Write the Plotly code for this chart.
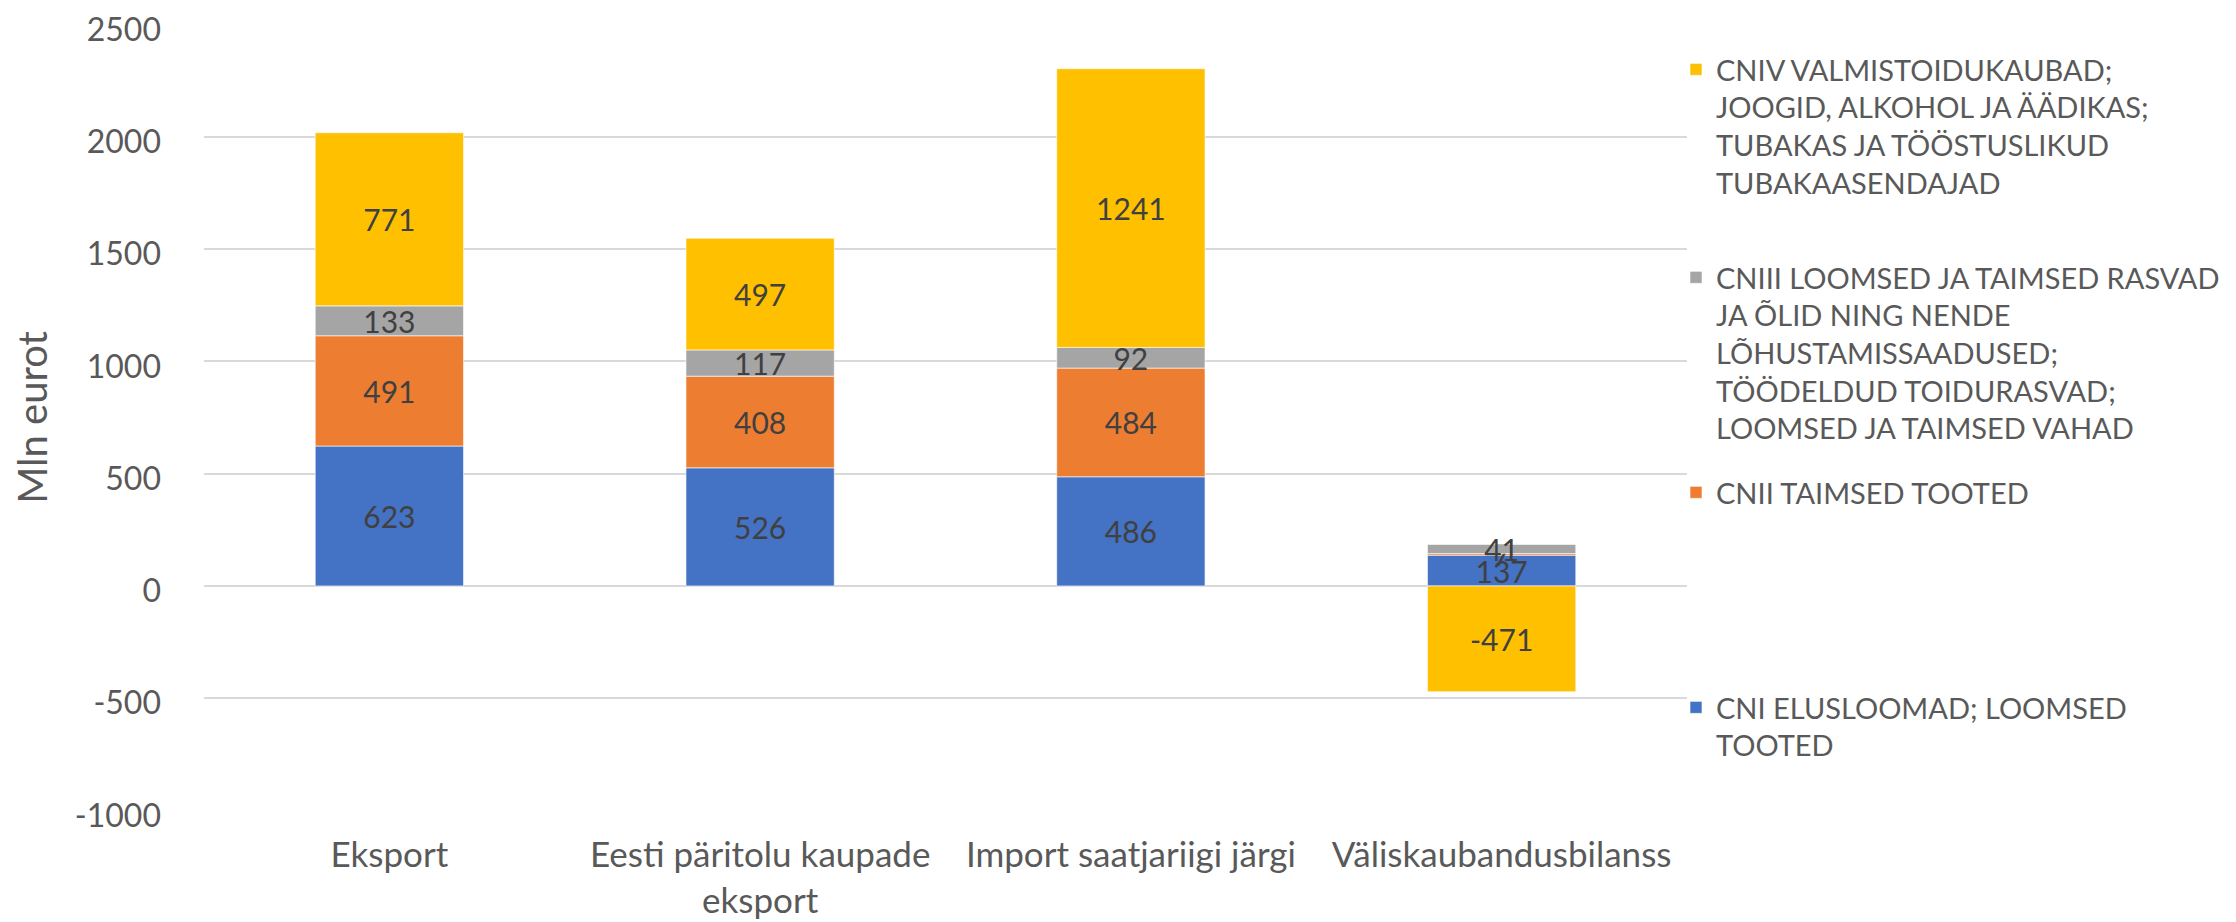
import plotly.graph_objects as go

categories = ["Eksport", "Eesti päritolu kaupade<br>eksport", "Import saatjariigi järgi", "Väliskaubandusbilanss"]

cni = [623, 526, 486, 137]
cnii = [491, 408, 484, 7]
cniii = [133, 117, 92, 41]
cniv = [771, 497, 1241, -471]

names = [
    "CNI ELUSLOOMAD; LOOMSED<br>TOOTED",
    "CNII TAIMSED TOOTED",
    "CNIII LOOMSED JA TAIMSED RASVAD<br>JA ÕLID NING NENDE<br>LÕHUSTAMISSAADUSED;<br>TÖÖDELDUD TOIDURASVAD;<br>LOOMSED JA TAIMSED VAHAD",
    "CNIV VALMISTOIDUKAUBAD;<br>JOOGID, ALKOHOL JA ÄÄDIKAS;<br>TUBAKAS JA TÖÖSTUSLIKUD<br>TUBAKAASENDAJAD",
]
colors = ["#4472C4", "#ED7D31", "#A5A5A5", "#FFC000"]
series = [cni, cnii, cniii, cniv]
legend_ids = ["legend4", "legend3", "legend2", "legend"]

y_ticks = [-1000, -500, 0, 500, 1000, 1500, 2000, 2500]
y_ticktext = [str(v) for v in y_ticks]

FONT = "Lato"
TXT = "#595959"

fig = go.Figure()
for name, vals, col, lg in zip(names, series, colors, legend_ids):
    fig.add_trace(go.Bar(
        x=categories, y=vals, name=name,
        marker=dict(color=col, line=dict(color="rgba(255,255,255,0.6)", width=1)),
        text=[str(v) for v in vals],
        textposition="inside", insidetextanchor="middle", textangle=0,
        constraintext="none",
        textfont=dict(family=FONT, size=30, color="#404040"),
        legend=lg,
    ))

# figure is offset by the 8px page body margin
W, H = 2228, 914
L, T = 196, 16
R = W - 1679
B = H - 803
pw = W - L - R
ph = H - T - B

def px_x(px):
    return (px - L) / pw

def px_y(py):
    return (H - B - py) / ph

leg_common = dict(
    font=dict(family=FONT, size=29, color=TXT),
    xanchor="left", yanchor="top", valign="top",
    bgcolor="rgba(0,0,0,0)", borderwidth=0,
    x=px_x(1668),
)
layout_legends = {}
for lg, ytop in zip(["legend", "legend2", "legend3", "legend4"], [36, 244, 459, 674]):
    layout_legends[lg] = dict(leg_common, y=px_y(ytop))

fig.update_layout(
    width=W, height=H,
    margin=dict(l=L, r=R, t=T, b=B, pad=0, autoexpand=False),
    barmode="relative",
    bargap=0.6,
    plot_bgcolor="white", paper_bgcolor="white",
    font=dict(family=FONT, color=TXT),
    uniformtext=dict(minsize=30, mode="show"),
    showlegend=True,
    **layout_legends,
)
fig.update_xaxes(
    showline=False, showgrid=False, zeroline=False,
    tickfont=dict(family=FONT, size=35, color=TXT),
    ticks="", ticklabelstandoff=20,
)
fig.update_yaxes(
    range=[-1002, 2502], tickvals=y_ticks, ticktext=y_ticktext,
    showgrid=True, gridcolor="#D9D9D9", gridwidth=1.5,
    zeroline=True, zerolinecolor="#D9D9D9", zerolinewidth=1.5,
    showline=False, ticks="",
    tickfont=dict(family=FONT, size=32, color=TXT),
    ticklabelstandoff=42, ticklabeloverflow="allow", ticklabelshift=5,
    title=dict(text="Mln eurot", font=dict(family=FONT, size=40, color=TXT), standoff=24),
)

fig.write_html("out.html")
